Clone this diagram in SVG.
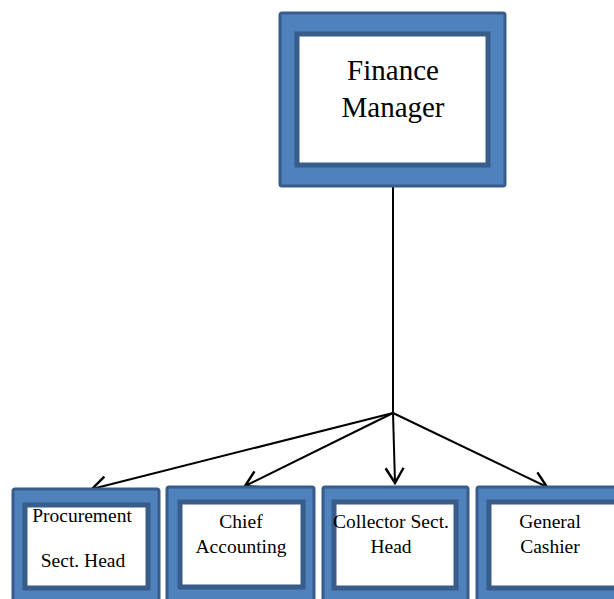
<svg xmlns="http://www.w3.org/2000/svg" width="614" height="599" viewBox="0 0 614 599">
<style>
.outer{fill:#4f81bd;stroke:#385d8a;stroke-width:3}
.inner{fill:#ffffff;stroke:#385d8a;stroke-width:5}
.t{font-family:"Liberation Serif","Times New Roman",serif;fill:#000;text-anchor:middle}
.big{font-size:29px}
.sm{font-size:19.5px}
.ln{stroke:#000;stroke-width:2;fill:none}
</style>
<defs>
<marker id="arr" viewBox="0 0 20 24" refX="18" refY="12" markerWidth="20" markerHeight="24" markerUnits="userSpaceOnUse" orient="auto">
<polyline points="3,3 18,12 3,21" fill="none" stroke="#000" stroke-width="2.4"/>
</marker>
</defs>
<rect width="614" height="599" fill="#fff"/>
<g id="connectors">
<line class="ln" x1="393" y1="187" x2="393" y2="413"/>
<line class="ln" x1="393" y1="413" x2="92" y2="489" marker-end="url(#arr)"/>
<line class="ln" x1="393" y1="413" x2="245" y2="486" marker-end="url(#arr)"/>
<line class="ln" x1="393" y1="413" x2="395" y2="483" marker-end="url(#arr)"/>
<line class="ln" x1="393" y1="413" x2="547" y2="487" marker-end="url(#arr)"/>
</g>
<g id="finance-manager">
<rect class="outer" x="280" y="13" width="225" height="173" rx="2"/>
<rect class="inner" x="297" y="34" width="191" height="131"/>
<text class="t big" x="393" y="80">Finance</text>
<text class="t big" x="393" y="117">Manager</text>
</g>
<g id="procurement">
<rect class="outer" x="13" y="489" width="146" height="120" rx="2"/>
<rect class="inner" x="25" y="505" width="123" height="83"/>
<text class="t sm" x="82" y="522">Procurement</text>
<text class="t sm" x="83" y="567">Sect. Head</text>
</g>
<g id="chief-accounting">
<rect class="outer" x="167" y="487" width="147" height="120" rx="2"/>
<rect class="inner" x="180" y="502" width="123" height="85"/>
<text class="t sm" x="241" y="528">Chief</text>
<text class="t sm" x="241" y="553">Accounting</text>
</g>
<g id="collector">
<rect class="outer" x="323" y="487" width="145" height="120" rx="2"/>
<rect class="inner" x="334" y="502" width="122" height="86"/>
<text class="t sm" x="391" y="528">Collector Sect.</text>
<text class="t sm" x="391" y="553">Head</text>
</g>
<g id="general-cashier">
<rect class="outer" x="477" y="487" width="145" height="120" rx="2"/>
<rect class="inner" x="489" y="502" width="130" height="86"/>
<text class="t sm" x="550" y="528">General</text>
<text class="t sm" x="550" y="553">Cashier</text>
</g>
</svg>
